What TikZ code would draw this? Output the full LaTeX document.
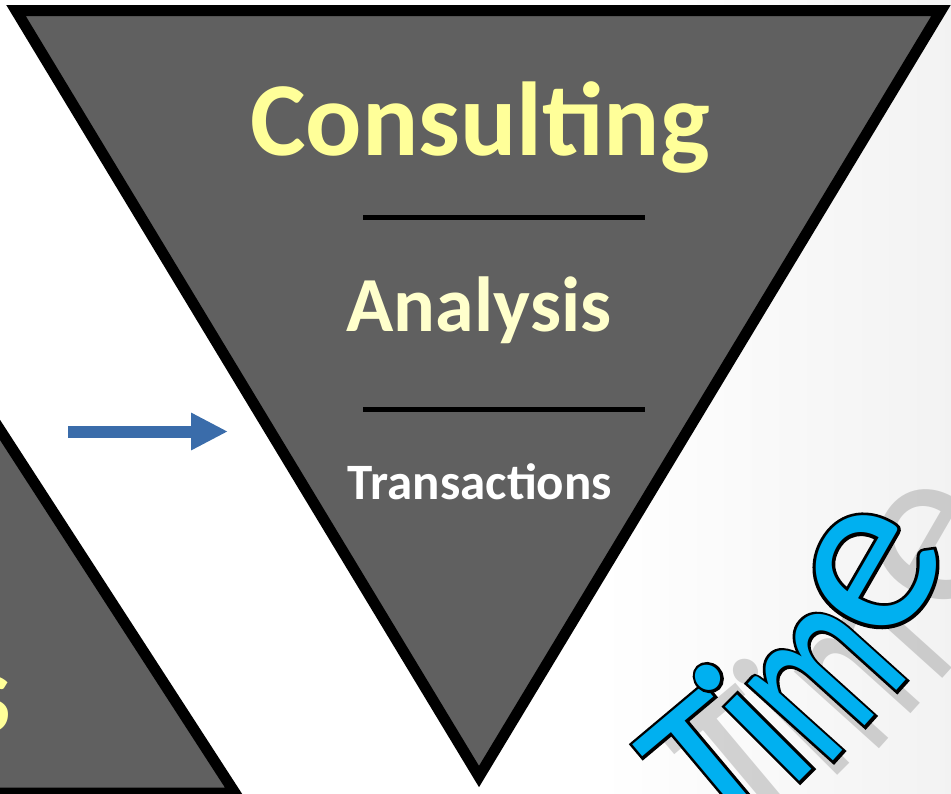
\documentclass[tikz,border=0pt]{standalone}
\usepackage{fontspec}
\setmainfont{Carlito}
\newfontfamily\timeoutline{Carlito}[FakeBold=2.8]
\usetikzlibrary{arrows.meta}
\definecolor{funnelgray}{RGB}{96,96,96}
\definecolor{lightyellow}{RGB}{255,255,153}
\definecolor{paleyellow}{RGB}{255,255,204}
\definecolor{arrowblue}{RGB}{58,108,170}
\definecolor{timecyan}{RGB}{0,176,240}
\tikzstyle{funnel}=[fill=funnelgray, draw=black, line width=11pt, line join=miter]
\tikzstyle{level}=[inner sep=0pt, anchor=base, font=\bfseries]
\tikzstyle{divider}=[line width=5pt]
\tikzstyle{timeglyph}=[inner sep=0pt, anchor=base, font=\fontsize{200}{200}\selectfont]

\begin{document}
\begin{tikzpicture}[x=1pt, y=-1pt]
        \useasboundingbox (0,0) rectangle (951,793);
        \shade[left color=white, right color=black!5] (600,0) rectangle (951,793);
        % funnel on the left, cut by the page
        \draw[funnel] (-343,-100) -- (235,793) -- (-900,793) -- cycle;
        \node[level, anchor=base east, text=lightyellow] (leftword) at (12,732) {\fontsize{115}{120}\selectfont s};
        % inverted funnel
        \draw[funnel] (16,10.5) -- (941,10.5) -- (479,776.5) -- cycle;
        \node[level, text=lightyellow] (consulting) at (480,155) {\fontsize{105}{110}\selectfont Consulting};
        \draw[divider] (363,217) -- (645,217);
        \node[level, text=paleyellow] (analysis) at (479,331) {\fontsize{78}{80}\selectfont Analysis};
        \draw[divider] (363,409) -- (645,409);
        \node[level, text=white] (transactions) at (480,499) {\fontsize{51}{54}\selectfont Transactions};
        % arrow between the funnels
        \coordinate (arrowtail) at (68,431.5);
        \coordinate (arrowtip) at (228,431.5);
        \draw[arrowblue, line width=12pt, -{Triangle[length=37pt, width=35pt]}] (arrowtail) -- (arrowtip);
        % Time, letter by letter along a rising arc, shadow first
        \foreach \glyph/\gx/\gy/\ang/\wx/\wy/\sx/\sy in {T/755/818/40/1/1.05/32/-2, i/806/775/45/1/1.1/38/-6, m/869/721/48/0.82/1.2/46/-12, e/923/601/60/1.2/1.2/62/-26}
          \node[timeglyph, rotate=\ang, xscale=\wx, yscale=\wy, text=black, opacity=0.16] (shadow-\glyph) at (\gx+\sx,\gy+\sy) {\glyph};
        \foreach \glyph/\gx/\gy/\ang/\wx/\wy in {T/755/818/40/1/1.05, i/806/775/45/1/1.1, m/869/721/48/0.82/1.2, e/923/601/60/1.2/1.2} {
          \node[timeglyph, rotate=\ang, xscale=\wx, yscale=\wy, text=black] (edge-\glyph) at (\gx,\gy) {\timeoutline\glyph};
          \node[timeglyph, rotate=\ang, xscale=\wx, yscale=\wy, text=timecyan] (time-\glyph) at (\gx,\gy) {\glyph};
        }
\end{tikzpicture}
\end{document}
